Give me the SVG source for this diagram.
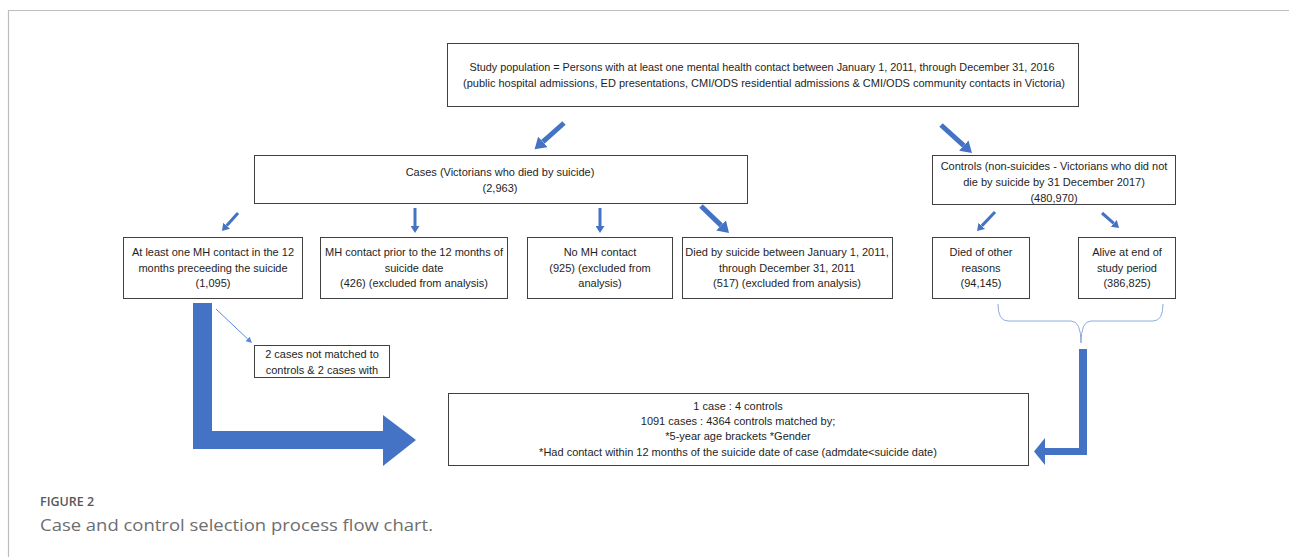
<svg xmlns="http://www.w3.org/2000/svg" width="1290" height="557" viewBox="0 0 1290 557">
<style>
.box{fill:#fff;stroke:#404040;stroke-width:1}
.t{font-family:"Liberation Sans",Arial,sans-serif;font-size:11px;fill:#1e1e1e;text-anchor:middle}
.ar{stroke:#4472C4;fill:none}
.big{fill:#4472C4}
.frame{stroke:#bdbdbd;stroke-width:1.2;fill:none}
</style>
<defs>
<marker id="hT" markerUnits="userSpaceOnUse" markerWidth="12" markerHeight="14" refX="0" refY="7" orient="auto"><path d="M0,0 L11,7 L0,14 Z" fill="#4472C4"/></marker>
<marker id="hM" markerUnits="userSpaceOnUse" markerWidth="8" markerHeight="9" refX="0" refY="4.5" orient="auto"><path d="M0,0 L7,4.5 L0,9 Z" fill="#4472C4"/></marker>
<marker id="hS" markerUnits="userSpaceOnUse" markerWidth="7" markerHeight="6" refX="0" refY="3" orient="auto"><path d="M0,0 L6,3 L0,6 Z" fill="#5B8BD6"/></marker>
</defs>
<rect width="1290" height="557" fill="#fff"/>
<path class="frame" d="M8.5,557 L8.5,10.5 L1289,10.5"/>

<g id="study-population">
<rect class="box" x="447.5" y="43.5" width="631" height="63"/>
<text class="t" x="762" y="71" textLength="585" lengthAdjust="spacingAndGlyphs">Study population = Persons with at least one mental health contact between January 1, 2011, through December 31, 2016</text>
<text class="t" x="764" y="87" textLength="602" lengthAdjust="spacingAndGlyphs">(public hospital admissions, ED presentations, CMI/ODS residential admissions &amp; CMI/ODS community contacts in Victoria)</text>
</g>

<g id="cases">
<rect class="box" x="254.5" y="155.5" width="493" height="48"/>
<text class="t" x="500" y="176">Cases (Victorians who died by suicide)</text>
<text class="t" x="500" y="192">(2,963)</text>
</g>

<g id="controls">
<rect class="box" x="932.5" y="155.5" width="243" height="49"/>
<text class="t" x="1054" y="170">Controls (non-suicides - Victorians who did not</text>
<text class="t" x="1054" y="186">die by suicide by 31 December 2017)</text>
<text class="t" x="1054" y="202">(480,970)</text>
</g>

<g id="mh-12-months">
<rect class="box" x="123.5" y="237.5" width="179" height="61"/>
<text class="t" x="213" y="256">At least one MH contact in the 12</text>
<text class="t" x="213" y="272">months preceeding the suicide</text>
<text class="t" x="213" y="287">(1,095)</text>
</g>

<g id="mh-prior">
<rect class="box" x="320.5" y="237.5" width="187" height="61"/>
<text class="t" x="414" y="256">MH contact prior to the 12 months of</text>
<text class="t" x="414" y="272">suicide date</text>
<text class="t" x="414" y="287">(426) (excluded from analysis)</text>
</g>

<g id="no-mh">
<rect class="box" x="527.5" y="237.5" width="145" height="61"/>
<text class="t" x="600" y="256">No MH contact</text>
<text class="t" x="600" y="272">(925) (excluded from</text>
<text class="t" x="600" y="287">analysis)</text>
</g>

<g id="died-2011">
<rect class="box" x="682.5" y="237.5" width="210" height="61"/>
<text class="t" x="787" y="256">Died by suicide between January 1, 2011,</text>
<text class="t" x="787" y="272">through December 31, 2011</text>
<text class="t" x="787" y="287">(517) (excluded from analysis)</text>
</g>

<g id="died-other">
<rect class="box" x="932.5" y="237.5" width="97" height="61"/>
<text class="t" x="981" y="256">Died of other</text>
<text class="t" x="981" y="272">reasons</text>
<text class="t" x="981" y="287">(94,145)</text>
</g>

<g id="alive">
<rect class="box" x="1078.5" y="237.5" width="97" height="61"/>
<text class="t" x="1127" y="256">Alive at end of</text>
<text class="t" x="1127" y="272">study period</text>
<text class="t" x="1127" y="287">(386,825)</text>
</g>

<g id="not-matched">
<rect class="box" x="254.5" y="345.5" width="135" height="32"/>
<text class="t" x="322" y="358">2 cases not matched to</text>
<text class="t" x="322" y="374">controls &amp; 2 cases with</text>
</g>

<g id="matched">
<rect class="box" x="448.5" y="393.5" width="580" height="72"/>
<text class="t" x="738" y="410">1 case : 4 controls</text>
<text class="t" x="738" y="425">1091 cases : 4364 controls matched by;</text>
<text class="t" x="738" y="440">*5-year age brackets *Gender</text>
<text class="t" x="738" y="456">*Had contact within 12 months of the suicide date of case (admdate&lt;suicide date)</text>
</g>

<g id="connectors">
<line class="ar" x1="564" y1="123" x2="542.8" y2="141.9" stroke-width="5" marker-end="url(#hT)"/>
<line class="ar" x1="941" y1="125" x2="963.8" y2="145.6" stroke-width="5" marker-end="url(#hT)"/>
<line class="ar" x1="701" y1="206" x2="721.1" y2="225.4" stroke-width="5" marker-end="url(#hT)"/>
<line class="ar" x1="238" y1="213" x2="226.6" y2="225.8" stroke-width="3" marker-end="url(#hM)"/>
<line class="ar" x1="415" y1="208" x2="415" y2="226" stroke-width="3" marker-end="url(#hM)"/>
<line class="ar" x1="600" y1="208" x2="600" y2="226" stroke-width="3" marker-end="url(#hM)"/>
<line class="ar" x1="995" y1="212" x2="981.8" y2="225.9" stroke-width="3" marker-end="url(#hM)"/>
<line class="ar" x1="1102" y1="213" x2="1113.8" y2="223.4" stroke-width="3" marker-end="url(#hM)"/>
<line x1="216" y1="309" x2="247.6" y2="338.9" stroke="#5B8BD6" stroke-width="1" marker-end="url(#hS)"/>
<path d="M998,304 Q998,321 1008,321 L1071,321 Q1081,321 1081,343 Q1081,321 1091,321 L1153,321 Q1163,321 1163,304" fill="none" stroke="#8FAADC" stroke-width="1"/>
<path class="big" d="M193,303 L212,303 L212,431 L383,431 L383,415 L416,440 L383,466 L383,449 L193,449 Z"/>
<path class="big" d="M1079,349 L1087,349 L1087,455 L1045,455 L1045,465 L1034,451.5 L1045,438 L1045,448 L1079,448 Z"/>
</g>

<text x="40" y="506" font-family="'Open Sans','Liberation Sans',sans-serif" font-size="12.5" font-weight="600" fill="#585858">FIGURE 2</text>
<text x="40" y="531" font-family="'Open Sans','Liberation Sans',sans-serif" font-size="16.5" fill="#6e6e6e" textLength="393" lengthAdjust="spacingAndGlyphs">Case and control selection process flow chart.</text>
</svg>
